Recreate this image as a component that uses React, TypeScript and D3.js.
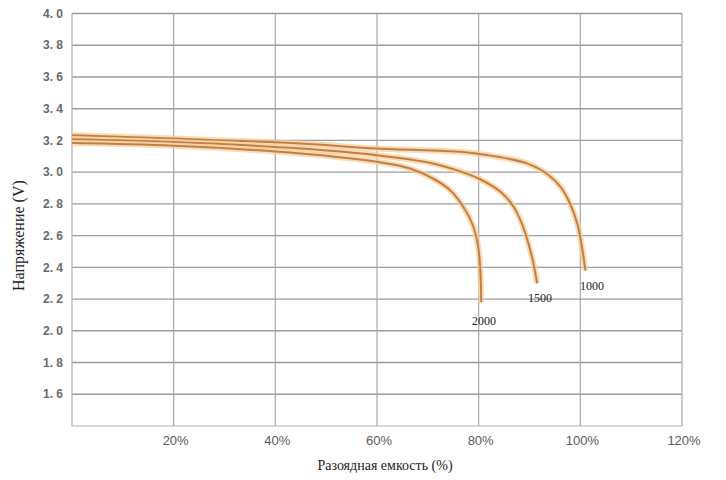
import React from "react";
import * as d3 from "d3";

const xTicks = [20, 40, 60, 80, 100, 120];
const yTicks = [1.6, 1.8, 2.0, 2.2, 2.4, 2.6, 2.8, 3.0, 3.2, 3.4, 3.6, 3.8, 4.0];

const cycleLabels = ["1000", "1500", "2000"];
const cap1000 = [0, 20, 45, 60, 76.4, 80, 85, 89.5, 93.4, 96.1, 98, 99.4, 100.1, 100.6, 101];
const volt1000 = [3.233, 3.212, 3.18, 3.149, 3.128, 3.115, 3.09, 3.055, 2.99, 2.907, 2.8, 2.675, 2.57, 2.47, 2.38];
const cap1500 = [0, 20, 45, 60, 71, 76.4, 80, 84.3, 86.9, 88.5, 89.6, 90.6, 91.5];
const volt1500 = [3.208, 3.19, 3.149, 3.107, 3.055, 3.005, 2.96, 2.876, 2.78, 2.675, 2.57, 2.45, 2.3];
const cap2000 = [0, 20, 45, 60, 66.5, 71, 74.4, 77, 78.8, 79.8, 80.3, 80.5];
const volt2000 = [3.183, 3.166, 3.118, 3.065, 3.023, 2.96, 2.886, 2.78, 2.67, 2.55, 2.4, 2.18];

const W = 726;
const H = 480;
const x = d3.scaleLinear().domain([0, 120]).range([72, 682]);
const y = d3.scaleLinear().domain([1.4, 4.0]).range([426, 13.5]);

export default function App() {
  const series = [
    { name: cycleLabels[0], cap: cap1000, volt: volt1000, lx: 592, ly: 290 },
    { name: cycleLabels[1], cap: cap1500, volt: volt1500, lx: 540, ly: 302 },
    { name: cycleLabels[2], cap: cap2000, volt: volt2000, lx: 484, ly: 325 },
  ];
  const line = d3
    .line<[number, number]>()
    .x((d) => x(d[0]))
    .y((d) => y(d[1]))
    .curve(d3.curveCatmullRom.alpha(0.5));
  const tickFmt = (v: number) => v.toFixed(1).replace(".", ". ");
  return (
    <svg
      width={W}
      height={H}
      style={{ position: "absolute", left: 0, top: 0, background: "#fff" }}
    >
      {yTicks.map((t) => (
        <line
          key={"h" + t}
          x1={x(0)}
          x2={x(120)}
          y1={y(t)}
          y2={y(t)}
          stroke="#9c9c9c"
          strokeWidth={1.4}
        />
      ))}
      {xTicks.map((t) => (
        <line
          key={"v" + t}
          x1={x(t)}
          x2={x(t)}
          y1={y(4.0)}
          y2={y(1.4)}
          stroke="#a8a8a8"
          strokeWidth={1.2}
        />
      ))}
      <line x1={x(0)} x2={x(0)} y1={y(4.0)} y2={y(1.4)} stroke="#b0b0b0" strokeWidth={1.2} />
      <line x1={x(0)} x2={x(120)} y1={y(1.4)} y2={y(1.4)} stroke="#b0b0b0" strokeWidth={1.2} />
      {yTicks.map((t) => (
        <text
          key={"yl" + t}
          x={63}
          y={y(t)}
          dy="0.35em"
          textAnchor="end"
          fontFamily="Arial, 'Liberation Sans', sans-serif"
          fontSize={12}
          fontWeight="bold"
          fill="#6a6a6a"
        >
          {tickFmt(t)}
        </text>
      ))}
      {xTicks.map((t) => (
        <text
          key={"xl" + t}
          x={x(t) + 2}
          y={445}
          textAnchor="middle"
          fontFamily="Arial, 'Liberation Sans', sans-serif"
          fontSize={13}
          fill="#5a5a5a"
        >
          {t + "%"}
        </text>
      ))}
      {series.map((s) => {
        const pts = s.cap.map((c, i) => [c, s.volt[i]] as [number, number]);
        const d = line(pts) || "";
        return (
          <g key={s.name}>
            <path d={d} fill="none" stroke="#f8cf9e" strokeOpacity={0.75} strokeWidth={6} />
            <path d={d} fill="none" stroke="#bf8046" strokeWidth={2} />
            <text
              x={s.lx}
              y={s.ly}
              textAnchor="middle"
              fontFamily="'Liberation Serif', 'DejaVu Serif', serif"
              fontSize={12}
              fill="#222"
            >
              {s.name}
            </text>
          </g>
        );
      })}
      <text
        x={385}
        y={470}
        textAnchor="middle"
        fontFamily="'Liberation Serif', serif"
        fontSize={14}
        fill="#222"
      >
        Разоядная емкость (%)
      </text>
      <text
        transform={`translate(24,${y(2.6)}) rotate(-90)`}
        textAnchor="middle"
        fontFamily="'Liberation Serif', serif"
        fontSize={16}
        fill="#222"
      >
        Напряжение (V)
      </text>
    </svg>
  );
}
